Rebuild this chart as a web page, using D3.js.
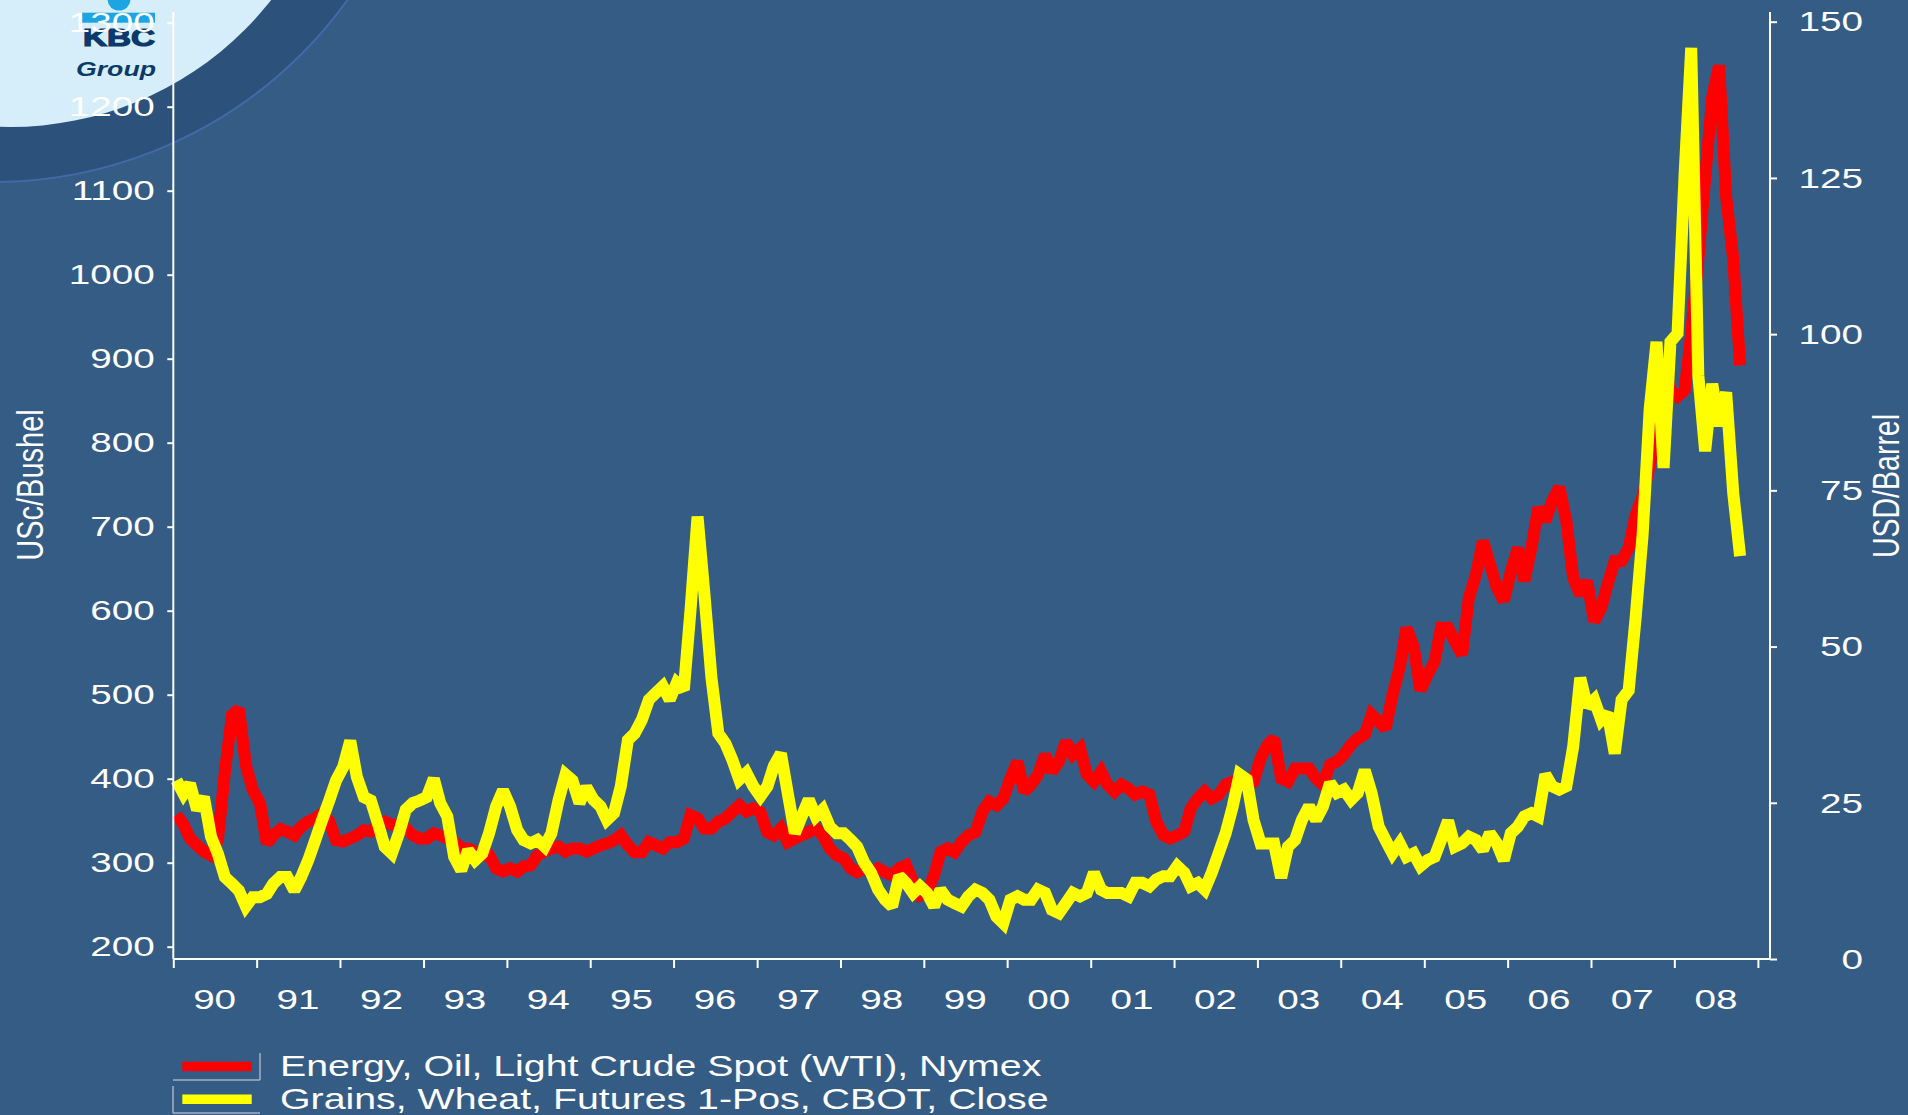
<html><head>
<meta charset="utf-8">
<title>Oil and Wheat</title>
<script src="https://d3js.org/d3.v7.min.js"></script>
<style>
body { margin: 0; background: #345c85; }
svg text { font-family: "Liberation Sans", Arial, sans-serif; }
</style>
</head>
<body>
<div id="chart"></div>
<script>

// x axis labels, one per year
var yearLabels = ["90","91","92","93","94","95","96","97","98","99","00","01","02","03","04","05","06","07","08"];
var leftTicks = [200,300,400,500,600,700,800,900,1000,1100,1200,1300];
var rightTicks = [0,25,50,75,100,125,150];
var legendLabels = ["Energy, Oil, Light Crude Spot (WTI), Nymex", "Grains, Wheat, Futures 1-Pos, CBOT, Close"];

// monthly values, Jan 1990 .. Oct 2008
// oil, USD/barrel (right axis)
var oil = [
 23.1,21.5,19.3,18.2,17.2,16.6,19.0,30.0,39.0,40.0,31.0,27.0,
 25.0,18.5,19.8,20.8,20.4,19.8,21.2,22.0,22.5,23.3,22.0,19.0,
 18.8,19.3,19.8,20.6,20.4,21.5,22.0,21.5,21.5,20.9,19.8,19.3,
 19.3,20.1,19.8,19.3,18.8,17.7,17.7,17.2,16.6,16.6,14.5,14.0,
 14.5,14.0,14.8,15.0,16.6,17.2,17.7,18.0,17.2,17.7,17.7,17.2,
 17.7,18.2,18.5,19.0,19.8,18.2,17.1,17.1,18.7,18.2,17.7,18.7,
 18.7,19.3,23.0,22.5,20.9,20.9,22.0,22.5,23.6,24.6,23.6,24.1,
 23.5,20.3,19.8,20.9,18.7,19.3,19.8,20.3,20.9,19.8,17.7,16.6,
 16.1,14.5,13.9,14.5,13.9,14.5,13.9,13.4,14.5,15.0,12.3,10.2,
 10.7,13.4,17.1,17.7,17.1,18.7,19.8,20.3,23.6,25.2,24.6,25.7,
 28.9,31.6,26.8,27.9,29.5,32.7,30.0,31.6,34.8,32.7,33.7,29.5,
 28.4,30.0,27.9,26.8,27.9,27.3,26.3,26.8,26.3,22.0,19.8,19.3,
 19.8,20.4,24.1,25.7,26.8,25.7,26.3,27.9,28.4,28.9,27.9,28.4,
 32.1,34.3,35.3,28.9,28.4,30.5,30.5,30.5,28.9,27.9,31.1,31.6,
 32.7,34.3,35.3,35.9,39.1,38.0,36.9,42.3,46.6,53.0,50.0,43.0,
 45.5,47.6,53.0,53.0,50.8,48.7,57.8,61.5,66.9,63.2,59.4,57.3,
 62.0,65.8,60.5,65.8,72.2,70.1,73.3,75.5,70.1,61.0,58.3,60.5,
 54.0,56.2,60.0,63.7,63.7,65.8,71.0,74.0,79.0,84.0,95.0,91.0,
 90.0,91.0,100.0,112.0,125.0,138.0,143.0,122.0,112.0,95.0
];

// wheat, USc/bushel (left axis)
var wheat = [
 398,382,394,363,378,331,311,283,275,267,248,259,
 259,263,275,283,283,267,283,303,327,351,374,398,
 414,445,402,378,374,347,319,311,335,363,371,374,
 378,400,371,355,307,291,315,303,311,335,367,386,
 367,339,327,323,327,319,335,374,405,398,371,390,
 375,367,351,359,391,446,454,470,494,502,510,494,
 514,506,600,712,620,520,454,442,422,399,407,391,
 379,391,415,430,383,335,355,375,355,363,343,335,
 335,327,319,300,288,268,256,248,284,276,264,272,
 264,248,268,256,252,248,260,268,264,256,236,228,
 256,260,256,256,268,264,244,240,252,264,260,264,
 288,268,264,264,264,260,276,276,272,280,284,284,
 296,288,272,276,268,288,311,335,367,405,399,351,
 323,323,323,282,319,327,351,367,351,367,395,383,
 387,375,383,410,383,343,327,311,323,307,311,296,
 303,307,327,350,319,323,331,327,315,335,323,303,
 335,343,355,359,355,405,391,387,391,438,520,486,
 494,470,478,430,494,505,590,690,840,920,770,920,
 930,1120,1270,880,790,870,820,860,740,665
];

var months = d3.range(oil.length).map(function(i) { return new Date(1990, i, 15); });
var years = d3.range(1990, 2010).map(function(y) { return new Date(y, 0, 1); });

var width = 1908, height = 1115;
var bg = "#345c85";

var svg = d3.select("#chart").append("svg")
    .attr("width", width)
    .attr("height", height);

svg.append("rect").attr("width", width).attr("height", height).attr("fill", bg);

// corner logo disc
svg.append("circle").attr("cx", -7).attr("cy", -254).attr("r", 436)
    .attr("fill", "#2c527b").attr("stroke", "#4568a8").attr("stroke-width", 2);
svg.append("circle").attr("cx", 10).attr("cy", -205).attr("r", 332)
    .attr("fill", "#d6eefa");
svg.append("rect").attr("x", 82).attr("y", 12.7).attr("width", 73).attr("height", 10).attr("fill", "#1ba5e2");
svg.append("circle").attr("cx", 119).attr("cy", -1).attr("r", 11.5).attr("fill", "#1ba5e2");
svg.append("text").attr("x", 83).attr("y", 45.5)
    .attr("textLength", 72).attr("lengthAdjust", "spacingAndGlyphs")
    .style("font-size", "24px").style("font-weight", "900").attr("fill", "#0b3a6a")
    .attr("stroke", "#0b3a6a").attr("stroke-width", 1.2)
    .text("KBC");
svg.append("text").attr("x", 76).attr("y", 75.5)
    .attr("textLength", 80).attr("lengthAdjust", "spacingAndGlyphs")
    .style("font-size", "21px").style("font-weight", "bold").style("font-style", "italic").attr("fill", "#0b3a6a")
    .text("Group");

var x = d3.scaleTime()
    .domain([new Date(1990, 0, 1), new Date(2009, 0, 1)])
    .range([173.3, 1757.9]);
var yL = d3.scaleLinear().domain([200, 1300]).range([946.7, 22.7]);
var yR = d3.scaleLinear().domain([0, 150]).range([959, 21.7]);

var xLeft = 173.3, xRight = 1770, yBottom = 959, yTop = 12;

// series
svg.append("path")
    .datum(oil)
    .attr("fill", "none")
    .attr("stroke", "#ff0000")
    .attr("stroke-width", 12)
    .attr("stroke-linejoin", "miter")
    .attr("stroke-miterlimit", 2)
    .attr("d", d3.line()
      .x(function(d, i) { return x(months[i]); })
      .y(function(d) { return yR(d); }));

svg.append("path")
    .datum(wheat)
    .attr("fill", "none")
    .attr("stroke", "#ffff00")
    .attr("stroke-width", 12)
    .attr("stroke-linejoin", "miter")
    .attr("stroke-miterlimit", 2)
    .attr("d", d3.line()
      .x(function(d, i) { return x(months[i]); })
      .y(function(d) { return yL(d); }));

// axis lines
svg.append("line").attr("x1", xLeft).attr("x2", xLeft).attr("y1", yTop).attr("y2", yBottom)
    .attr("stroke", "#fff").attr("stroke-width", 2);
svg.append("line").attr("x1", xRight).attr("x2", xRight).attr("y1", yTop).attr("y2", yBottom)
    .attr("stroke", "#fff").attr("stroke-width", 2);
svg.append("line").attr("x1", xLeft).attr("x2", xRight).attr("y1", yBottom).attr("y2", yBottom)
    .attr("stroke", "#fff").attr("stroke-width", 2);

var gL = svg.append("g")
    .attr("transform", "translate(" + xLeft + ",0)")
    .call(d3.axisLeft(yL).tickValues(leftTicks).tickSize(6).tickFormat(d3.format("d")));
gL.select(".domain").remove();
gL.selectAll("line").attr("stroke", "#fff").attr("stroke-width", 2);
gL.selectAll("text")
    .attr("x", 0).attr("dy", "0.33em")
    .attr("transform", "translate(-18.5,0) scale(1.38,1)")
    .attr("fill", "#fff")
    .style("font-size", "28px").style("font-family", "Liberation Sans, Arial, sans-serif");

var gR = svg.append("g")
    .attr("transform", "translate(" + xRight + ",0)")
    .call(d3.axisRight(yR).tickValues(rightTicks).tickSize(7));
gR.select(".domain").remove();
gR.selectAll("line").attr("stroke", "#fff").attr("stroke-width", 2);
gR.selectAll("text")
    .attr("x", 0).attr("dy", "0.33em")
    .attr("text-anchor", "end")
    .attr("transform", "translate(93,0) scale(1.38,1)")
    .attr("fill", "#fff")
    .style("font-size", "28px").style("font-family", "Liberation Sans, Arial, sans-serif");

var gX = svg.append("g")
    .attr("transform", "translate(0," + yBottom + ")")
    .call(d3.axisBottom(x).tickValues(years).tickSize(9).tickFormat(""));
gX.select(".domain").remove();
gX.selectAll("line").attr("stroke", "#fff").attr("stroke-width", 2);

svg.selectAll(".year")
    .data(yearLabels)
  .enter().append("text")
    .attr("class", "year")
    .attr("text-anchor", "middle")
    .attr("transform", function(d, i) {
      return "translate(" + x(new Date(1990 + i, 6, 1)) + ",1009) scale(1.38,1)";
    })
    .attr("fill", "#fff")
    .style("font-size", "28px")
    .text(function(d) { return d; });

// axis titles
svg.append("text")
    .attr("text-anchor", "middle")
    .attr("transform", "translate(42.7,485) scale(1.3,1) rotate(-90)")
    .attr("fill", "#fff")
    .style("font-size", "29px")
    .text("USc/Bushel");
svg.append("text")
    .attr("text-anchor", "middle")
    .attr("transform", "translate(1899,486) scale(1.3,1) rotate(-90)")
    .attr("fill", "#fff")
    .style("font-size", "28.5px")
    .text("USD/Barrel");

// legend
var frame = "#a3b1c2";
svg.append("line").attr("x1", 173).attr("x2", 260).attr("y1", 1080).attr("y2", 1080).attr("stroke", frame).attr("stroke-width", 1.5);
svg.append("line").attr("x1", 260).attr("x2", 260).attr("y1", 1053).attr("y2", 1080).attr("stroke", frame).attr("stroke-width", 1.5);
svg.append("line").attr("x1", 173).attr("x2", 173).attr("y1", 1086).attr("y2", 1113).attr("stroke", frame).attr("stroke-width", 1.5);
svg.append("line").attr("x1", 173).attr("x2", 260).attr("y1", 1113).attr("y2", 1113).attr("stroke", frame).attr("stroke-width", 1.5);

var swatch = ["#ff0000", "#ffff00"];
var legendY = [1075.7, 1108.5];
legendLabels.forEach(function(label, i) {
  svg.append("rect")
      .attr("x", 182.3).attr("y", legendY[i] - 14)
      .attr("width", 69.4).attr("height", 9.5)
      .attr("fill", swatch[i]);
  svg.append("text")
      .attr("transform", "translate(280," + legendY[i] + ") scale(1.31,1)")
      .attr("fill", "#fff")
      .style("font-size", "30px")
      .text(label);
});

</script>
</body></html>
